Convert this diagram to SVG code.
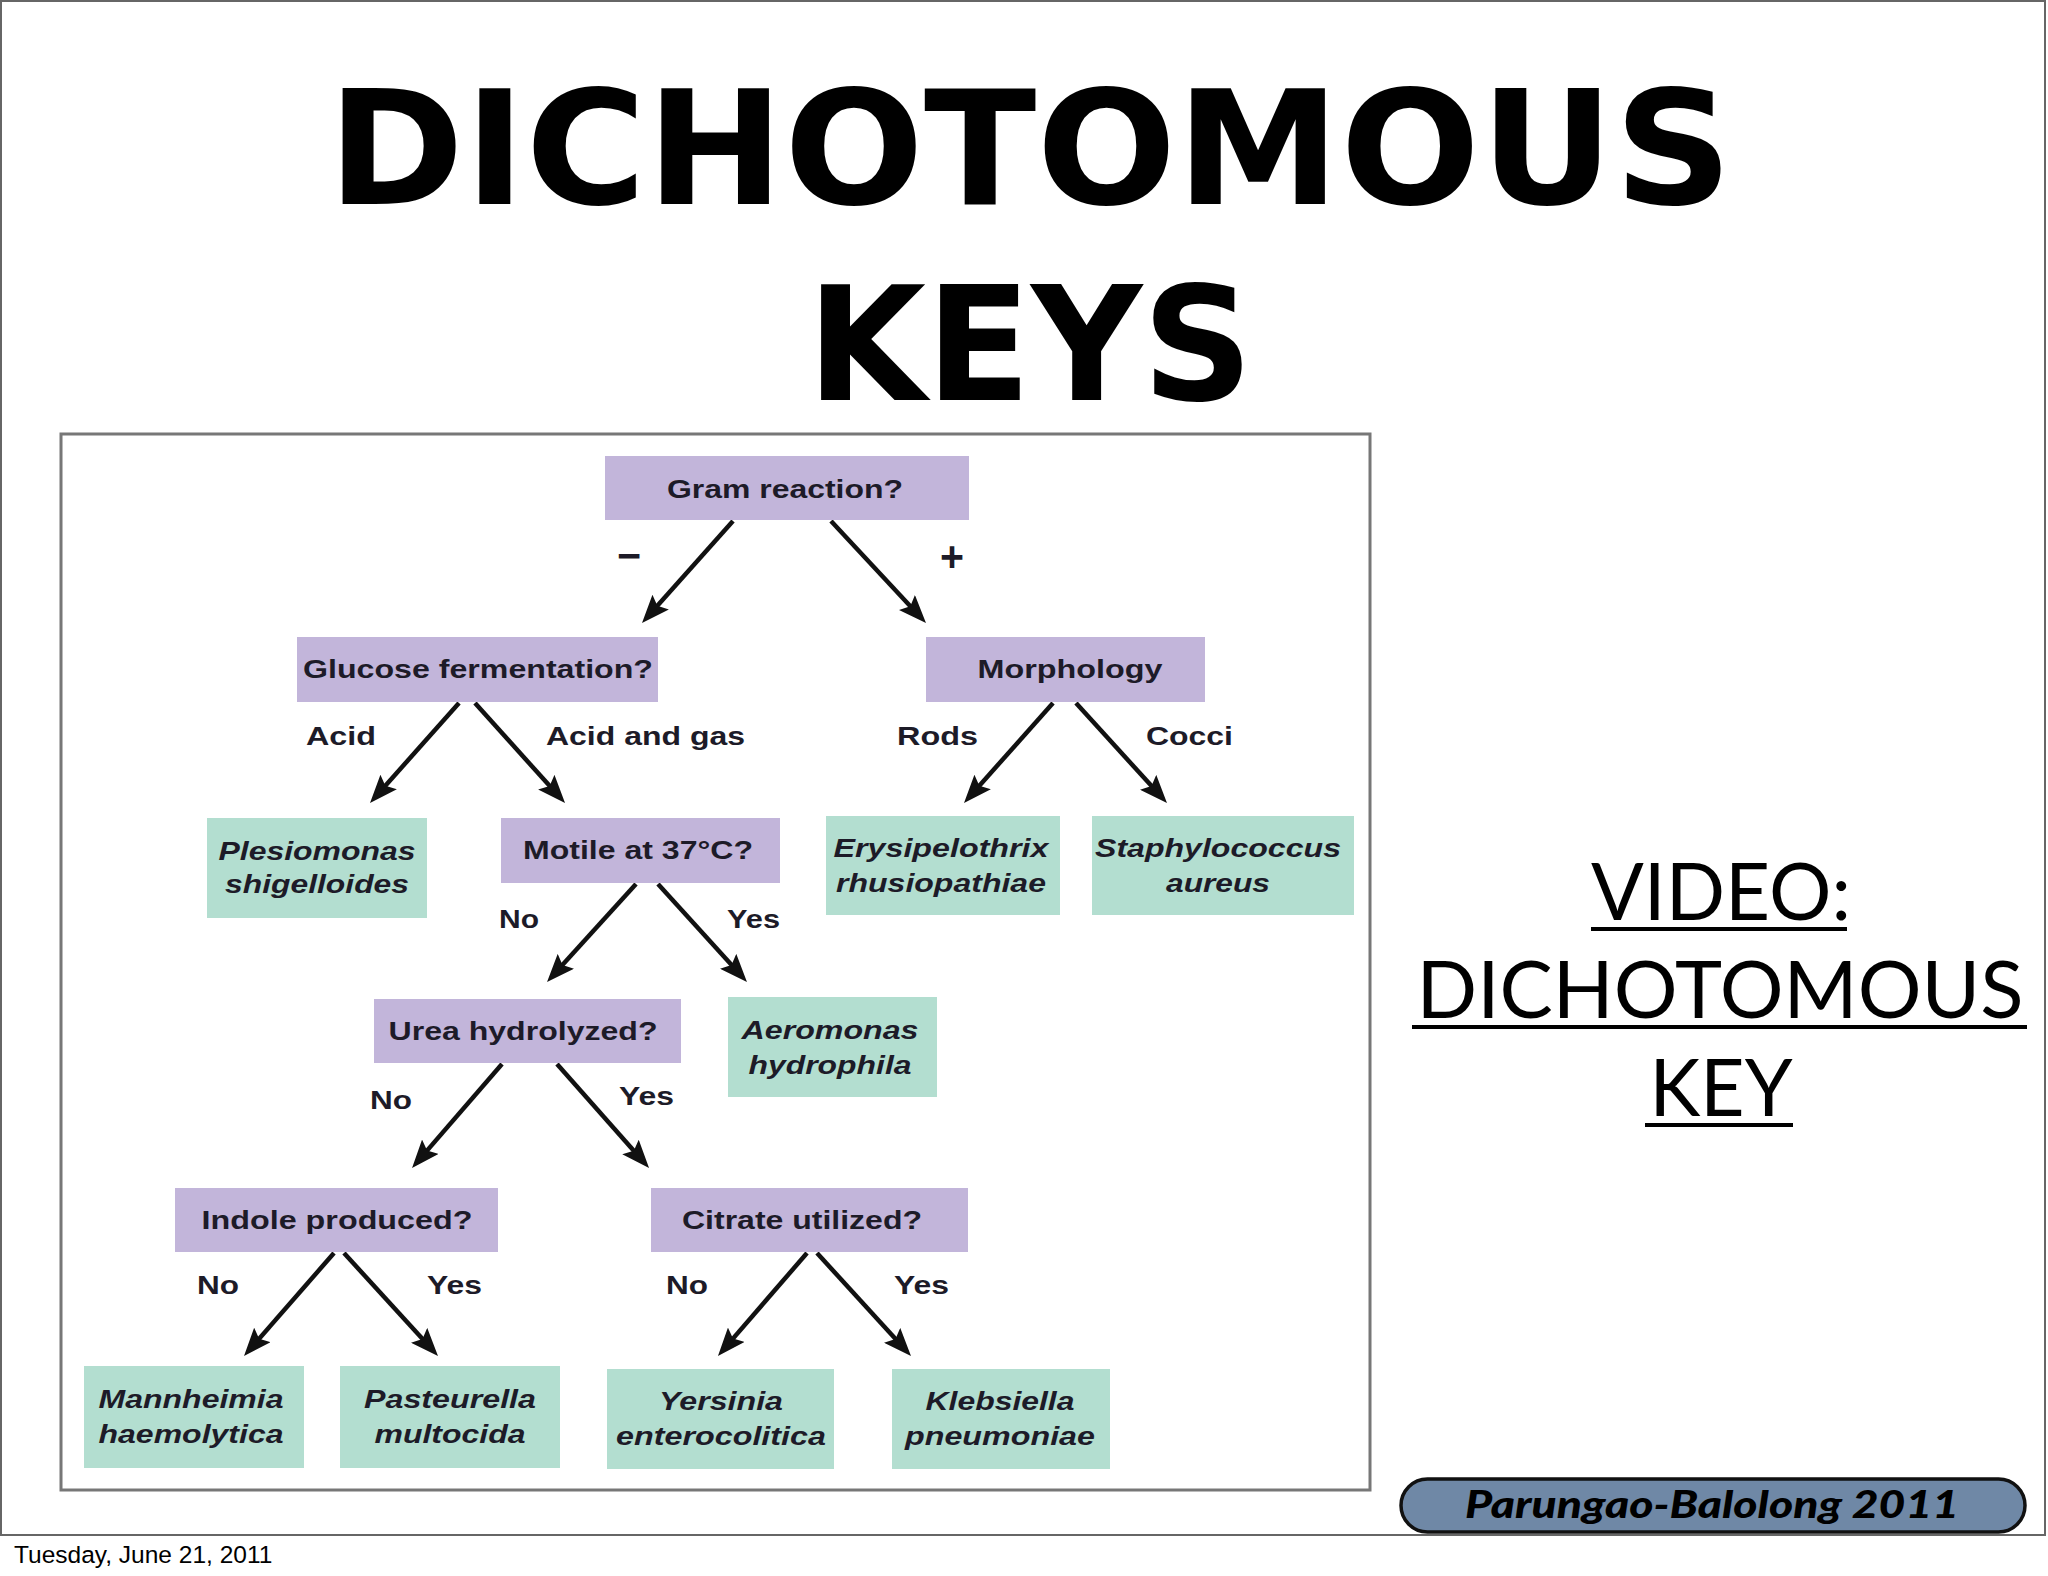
<svg xmlns="http://www.w3.org/2000/svg" width="2048" height="1576" viewBox="0 0 2048 1576">
<style>
.q{fill:#c2b5da}
.g{fill:#b3ded0}
.t{font-family:"Liberation Sans",Arial,sans-serif;font-weight:bold;font-size:26px;fill:#1d1b28;text-anchor:middle}
.i{font-style:italic}
.lbl{font-family:"Liberation Sans",Arial,sans-serif;font-weight:bold;font-size:26px;fill:#1d1b28}
.sign{font-family:"Liberation Sans",Arial,sans-serif;font-weight:bold;font-size:42px;fill:#1d1b28;text-anchor:middle}
.e{stroke:#111;stroke-width:4.5;fill:none;marker-end:url(#ah)}
.vid{font-family:Lato,"Open Sans",sans-serif;font-size:80px;fill:#000;text-anchor:middle}
.ul{fill:#000}
</style>
<defs>
<marker id="ah" viewBox="0 0 28 22" markerWidth="28" markerHeight="22" refX="16" refY="11" orient="auto" markerUnits="userSpaceOnUse">
<path d="M0,0 L28,11 L0,22 L5,11 Z" fill="#111"/>
</marker>
</defs>
<rect x="0" y="0" width="2048" height="1576" fill="#fff"/>
<rect x="1" y="1" width="2044" height="1534" fill="none" stroke="#666" stroke-width="2"/>

<g id="title">
<text x="1030" y="204" font-family="DejaVu Sans,sans-serif" font-weight="bold" font-size="158" text-anchor="middle" textLength="1405" lengthAdjust="spacingAndGlyphs">DICHOTOMOUS</text>
<text x="1030" y="400" font-family="DejaVu Sans,sans-serif" font-weight="bold" font-size="158" text-anchor="middle" textLength="446" lengthAdjust="spacingAndGlyphs">KEYS</text>
</g>

<g id="figure-frame">
<rect x="61" y="434" width="1309" height="1056" fill="#fff" stroke="#777" stroke-width="3"/>
</g>

<g id="connectors">
<line class="e" x1="733" y1="521" x2="650.0" y2="614.0"/>
<line class="e" x1="831" y1="521" x2="917.8" y2="614.2"/>
<line class="e" x1="459" y1="703" x2="378.0" y2="794.0"/>
<line class="e" x1="475" y1="703" x2="557.0" y2="794.1"/>
<line class="e" x1="1053" y1="703" x2="972.0" y2="794.0"/>
<line class="e" x1="1076" y1="703" x2="1158.9" y2="794.1"/>
<line class="e" x1="636" y1="884" x2="555.1" y2="973.1"/>
<line class="e" x1="658" y1="884" x2="738.9" y2="973.1"/>
<line class="e" x1="502" y1="1064" x2="419.9" y2="1158.9"/>
<line class="e" x1="557" y1="1064" x2="641.1" y2="1159.0"/>
<line class="e" x1="334" y1="1253" x2="251.9" y2="1347.0"/>
<line class="e" x1="344" y1="1253" x2="429.9" y2="1347.1"/>
<line class="e" x1="807" y1="1253" x2="725.8" y2="1346.9"/>
<line class="e" x1="817" y1="1253" x2="902.9" y2="1347.1"/>
</g>

<g id="edge-labels">
<text class="sign" x="629" y="570" textLength="24" lengthAdjust="spacingAndGlyphs">−</text>
<text class="sign" x="952" y="571" textLength="24" lengthAdjust="spacingAndGlyphs">+</text>
<text class="lbl" x="306" y="745" textLength="70" lengthAdjust="spacingAndGlyphs">Acid</text>
<text class="lbl" x="546" y="745" textLength="199" lengthAdjust="spacingAndGlyphs">Acid and gas</text>
<text class="lbl" x="897" y="745" textLength="81" lengthAdjust="spacingAndGlyphs">Rods</text>
<text class="lbl" x="1146" y="745" textLength="87" lengthAdjust="spacingAndGlyphs">Cocci</text>
<text class="lbl" x="499" y="928" textLength="40" lengthAdjust="spacingAndGlyphs">No</text>
<text class="lbl" x="727" y="928" textLength="53" lengthAdjust="spacingAndGlyphs">Yes</text>
<text class="lbl" x="370" y="1109" textLength="42" lengthAdjust="spacingAndGlyphs">No</text>
<text class="lbl" x="619" y="1105" textLength="55" lengthAdjust="spacingAndGlyphs">Yes</text>
<text class="lbl" x="197" y="1294" textLength="42" lengthAdjust="spacingAndGlyphs">No</text>
<text class="lbl" x="427" y="1294" textLength="55" lengthAdjust="spacingAndGlyphs">Yes</text>
<text class="lbl" x="666" y="1294" textLength="42" lengthAdjust="spacingAndGlyphs">No</text>
<text class="lbl" x="894" y="1294" textLength="55" lengthAdjust="spacingAndGlyphs">Yes</text>
</g>

<g id="n-gram">
<rect class="q" x="605" y="456" width="364" height="64"/>
<text class="t" x="785" y="498" textLength="236" lengthAdjust="spacingAndGlyphs">Gram reaction?</text>
</g>
<g id="n-glucose">
<rect class="q" x="297" y="637" width="361" height="65"/>
<text class="t" x="478" y="678" textLength="350" lengthAdjust="spacingAndGlyphs">Glucose fermentation?</text>
</g>
<g id="n-morphology">
<rect class="q" x="926" y="637" width="279" height="65"/>
<text class="t" x="1070" y="678" textLength="185" lengthAdjust="spacingAndGlyphs">Morphology</text>
</g>
<g id="n-plesiomonas">
<rect class="g" x="207" y="818" width="220" height="100"/>
<text class="t i" x="317" y="860" textLength="197" lengthAdjust="spacingAndGlyphs">Plesiomonas</text>
<text class="t i" x="317" y="893" textLength="184" lengthAdjust="spacingAndGlyphs">shigelloides</text>
</g>
<g id="n-motile">
<rect class="q" x="501" y="818" width="279" height="65"/>
<text class="t" x="638" y="859" textLength="230" lengthAdjust="spacingAndGlyphs">Motile at 37°C?</text>
</g>
<g id="n-erysipelothrix">
<rect class="g" x="826" y="816" width="234" height="99"/>
<text class="t i" x="941" y="857" textLength="215" lengthAdjust="spacingAndGlyphs">Erysipelothrix</text>
<text class="t i" x="941" y="892" textLength="210" lengthAdjust="spacingAndGlyphs">rhusiopathiae</text>
</g>
<g id="n-staphylococcus">
<rect class="g" x="1092" y="816" width="262" height="99"/>
<text class="t i" x="1218" y="857" textLength="246" lengthAdjust="spacingAndGlyphs">Staphylococcus</text>
<text class="t i" x="1218" y="892" textLength="104" lengthAdjust="spacingAndGlyphs">aureus</text>
</g>
<g id="n-urea">
<rect class="q" x="374" y="999" width="307" height="64"/>
<text class="t" x="523" y="1040" textLength="269" lengthAdjust="spacingAndGlyphs">Urea hydrolyzed?</text>
</g>
<g id="n-aeromonas">
<rect class="g" x="728" y="997" width="209" height="100"/>
<text class="t i" x="830" y="1039" textLength="177" lengthAdjust="spacingAndGlyphs">Aeromonas</text>
<text class="t i" x="830" y="1074" textLength="163" lengthAdjust="spacingAndGlyphs">hydrophila</text>
</g>
<g id="n-indole">
<rect class="q" x="175" y="1188" width="323" height="64"/>
<text class="t" x="337" y="1229" textLength="271" lengthAdjust="spacingAndGlyphs">Indole produced?</text>
</g>
<g id="n-citrate">
<rect class="q" x="651" y="1188" width="317" height="64"/>
<text class="t" x="802" y="1229" textLength="240" lengthAdjust="spacingAndGlyphs">Citrate utilized?</text>
</g>
<g id="n-mannheimia">
<rect class="g" x="84" y="1366" width="220" height="102"/>
<text class="t i" x="191" y="1408" textLength="185" lengthAdjust="spacingAndGlyphs">Mannheimia</text>
<text class="t i" x="191" y="1443" textLength="185" lengthAdjust="spacingAndGlyphs">haemolytica</text>
</g>
<g id="n-pasteurella">
<rect class="g" x="340" y="1366" width="220" height="102"/>
<text class="t i" x="450" y="1408" textLength="172" lengthAdjust="spacingAndGlyphs">Pasteurella</text>
<text class="t i" x="450" y="1443" textLength="151" lengthAdjust="spacingAndGlyphs">multocida</text>
</g>
<g id="n-yersinia">
<rect class="g" x="607" y="1369" width="227" height="100"/>
<text class="t i" x="721" y="1410" textLength="124" lengthAdjust="spacingAndGlyphs">Yersinia</text>
<text class="t i" x="721" y="1445" textLength="210" lengthAdjust="spacingAndGlyphs">enterocolitica</text>
</g>
<g id="n-klebsiella">
<rect class="g" x="892" y="1369" width="218" height="100"/>
<text class="t i" x="1000" y="1410" textLength="149" lengthAdjust="spacingAndGlyphs">Klebsiella</text>
<text class="t i" x="1000" y="1445" textLength="190" lengthAdjust="spacingAndGlyphs">pneumoniae</text>
</g>

<g id="video-link">
<text class="vid" x="1721" y="920" textLength="260" lengthAdjust="spacingAndGlyphs">VIDEO:</text>
<rect class="ul" x="1591" y="927" width="256" height="4"/>
<text class="vid" x="1720" y="1018" textLength="607" lengthAdjust="spacingAndGlyphs">DICHOTOMOUS</text>
<rect class="ul" x="1412" y="1025" width="615" height="4"/>
<text class="vid" x="1721" y="1116" textLength="143" lengthAdjust="spacingAndGlyphs">KEY</text>
<rect class="ul" x="1645" y="1123" width="148" height="4"/>
</g>

<g id="credit">
<rect x="1401" y="1479" width="624" height="53" rx="26.5" fill="#6f88a6" stroke="#111" stroke-width="3.5"/>
<text x="1712" y="1518" font-family="Lato,'Liberation Sans',sans-serif" font-weight="900" font-style="italic" font-size="38" fill="#000" text-anchor="middle" textLength="494" lengthAdjust="spacingAndGlyphs">Parungao-Balolong 2011</text>
</g>

<g id="footer">
<text x="14" y="1563" font-family="'Liberation Sans',Arial,sans-serif" font-size="24.5" fill="#000">Tuesday, June 21, 2011</text>
</g>
</svg>
